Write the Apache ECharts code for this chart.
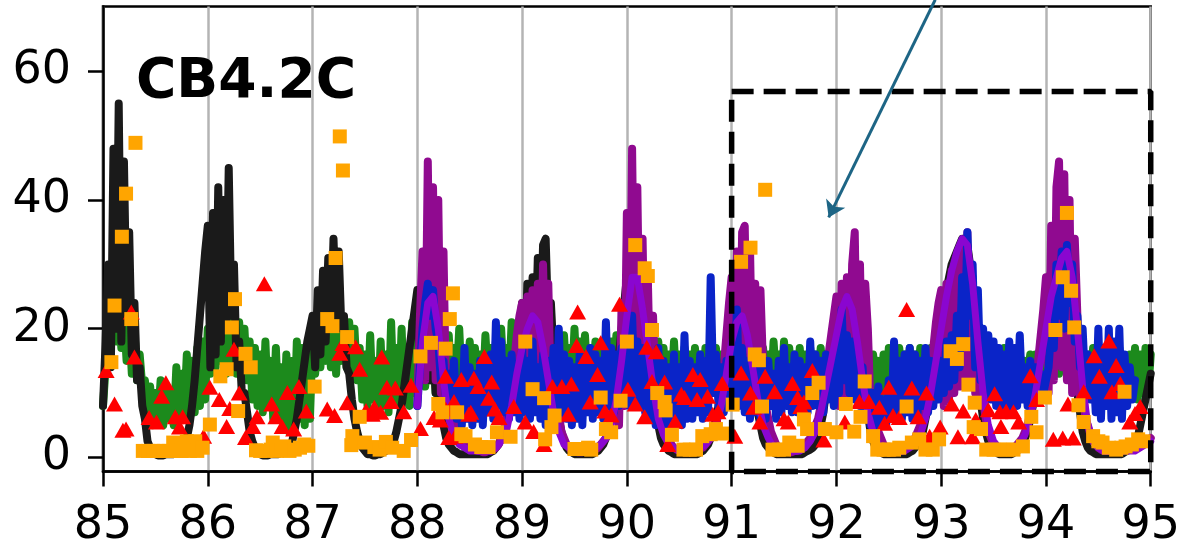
<!DOCTYPE html>
<html>
<head>
<meta charset="utf-8">
<script src="https://cdn.jsdelivr.net/npm/echarts@6/dist/echarts.min.js"></script>
<style>
html,body{margin:0;padding:0;background:#fff;}
#c{width:1183px;height:550px;}
</style>
</head>
<body>
<div id="c"></div>
<script>
// ---- data ----
const xTicks = [85, 86, 87, 88, 89, 90, 91, 92, 93, 94, 95];
const yTicks = [0, 20, 40, 60];
const panelLabel = 'CB4.2C';

const fineStep = 0.025;   // sample spacing of the noisy records
const coarseStep = 0.05;  // sample spacing of the smooth violet record

// green record, 85.000 -> 95.000 every 0.025
const greenStart = 85.0;
const green = [
 8,14,20,24,26,18,25,17,22,15, 21,13,20,12,16,11,12,6,11,5, 10,6,12,5,11,6,10,5,14,6, 13,7,16,6,15,7,17,8,18,9,
 20,13,22,14,24,15,23,13,25,14, 22,13,21,12,20,12,18,9,17,8, 16,7,18,8,15,6,17,7,14,5, 16,4,15,5,18,6,17,5,16,6,
 18,13,20,14,22,15,21,14,20,13, 22,15,19,14,21,13,20,12,17,9, 16,8,19,9,15,7,18,8,16,7, 21,9,17,8,20,9,16,8,21,10,
 18,12,16,11,19,12,17,10,18,11, 16,10,19,11,17,12,20,11,16,10, 18,12,17,11,16,10,19,12,17,11, 18,10,20,12,17,11,21,12,18,12,
 18,11,17,10,19,12,16,11,18,12, 17,10,18,11,16,10,19,12,17,11, 20,12,18,11,19,12,17,11,18,10, 17,12,19,11,18,12,19,13,17,12,
 20,12,18,11,19,12,17,11,18,12, 16,11,18,11,17,10,16,11,18,10, 16,11,17,12,16,10,17,11,16,11, 17,12,16,11,17,12,16,11,17,12,
 17,12,16,11,18,12,16,10,17,11, 16,10,17,11,16,10,18,12,16,11, 18,12,17,11,16,10,17,11,16,11, 17,12,16,11,17,12,16,11,17,12,
 17,12,16,11,17,12,16,11,17,12, 16,13,15,12,16,11,15,11,16,10, 17,11,16,10,17,12,16,11,17,12, 16,11,17,11,16,12,17,12,16,12,
 17,13,18,12,17,12,18,12,17,12, 16,11,17,12,16,11,17,12,16,11, 17,12,16,11,17,12,16,11,15,12, 16,13,15,12,16,13,16,14,17,14,
 18,14,19,14,18,13,19,14,18,14, 17,13,17,12,16,12,16,11,17,12, 17,12,16,11,16,11,17,12,17,12, 15,11,16,10,17,9,16,10,17,10,
 16];

// black record, 85.000 -> 95.000 every 0.025
const blackStart = 85.0;
const black = [
 8,18,30,14,48,20,55,18,46,22, 35,16,24,12,14,8,6,2.5,1.5,1, 0.5,0.3,0.3,0.3,0.5,0.5,0.5,0.5,0.8,1, 1.5,2,3,5,8,12,17,22,27,32,
 36,14,38,16,42,18,40,20,45,22, 30,14,18,10,10,7,4,2.5,1.5,1, 0.5,0.3,0.3,0.3,0.5,0.5,0.5,0.5,0.8,1, 1.2,1.5,2,4,6,9,12,15,18,20,
 22,14,26,16,29,18,31,20,34,22, 32,20,22,14,13,9,6,4,2.5,1.5, 1,0.5,0.5,0.3,0.3,0.5,0.5,0.8,1,1.5, 2,2.5,4,6,8,11,14,17,20,23,
 26,12,30,14,26,12,18,10,10,7, 5,3,2,1.5,1,0.8,0.5,0.5,0.5,0.5, 0.5,0.5,0.5,0.5,0.5,0.5,0.5,0.5,0.8,1, 1.5,2,3,4,6,8,11,14,17,20,
 24,12,27,14,28,16,31,18,33,34, 20,24,16,10,6,4,2.5,1.5,1,0.8, 0.5,0.5,0.5,0.5,0.5,0.5,0.5,0.5,0.8,1, 1.5,2,3,4,6,8,12,16,20,24,
 28,30,32,31,30,28,26,22,18,14, 10,7,5,3,2,1.5,1,0.8,0.5,0.5, 0.5,0.5,0.5,0.5,0.5,0.5,0.5,0.5,0.8,1, 1.5,2,3,4,6,8,11,14,17,20,
 21,23,25,24,24,22,20,17,13,10, 7,5,3,2,1.5,1,0.8,0.5,0.5,0.5, 0.5,0.5,0.5,0.5,0.5,0.5,0.5,0.5,0.8,1, 1.2,1.5,2,3,5,7,10,13,15,17,
 19,21,22,24,25,25,24,23,21,18, 14,10,7,4,2.5,1.5,1,0.8,0.5,0.5, 0.5,0.5,0.5,0.5,0.5,0.5,0.5,0.5,0.8,1, 1.5,2,3,4,6,8,11,14,17,20,
 22,24,26,28,30,31,32,33,34,34, 33,30,25,20,14,9,6,4,2.5,1.5, 1,0.8,0.5,0.5,0.5,0.5,0.5,0.5,0.8,1, 1.5,2,3,4,6,8,11,14,18,21,
 24,27,29,31,32,31,30,28,26,22, 18,14,10,7,4,2.5,1.5,1,0.8,0.5, 0.5,0.5,0.5,0.5,0.5,0.5,0.5,0.5,0.5,0.5, 0.8,1,1.2,1.5,2,3,5,7,9,11,
 13];

// blue record, 88.000 -> 94.850 every 0.025
const blueStart = 88.0;
const blue = [
 8,14,20,24,27,22,26,20,18,12, 15,9,13,7,15,6,12,5,17,6, 14,5,13,6,15,5,14,7,16,6, 21,8,18,7,15,6,16,7,14,6,
 17,7,15,6,18,7,14,6,16,5, 15,7,17,6,20,7,16,6,15,5, 14,6,16,5,15,7,17,6,16,7, 15,6,21,8,17,7,16,8,17,9,
 19,8,22,9,18,8,17,7,16,6, 15,5,17,6,15,5,14,6,16,5, 14,5,19,6,15,6,14,7,16,6, 15,7,28,10,16,8,14,7,15,8,
 16,9,23,8,17,7,15,6,14,7, 16,6,14,6,15,8,13,6,15,7, 17,8,14,7,16,7,15,8,14,7, 18,8,16,8,15,7,16,9,14,8,
 16,10,23,12,19,10,18,9,15,8, 14,6,11,5,10,4,11,5,9,5, 12,6,18,7,15,6,16,7,17,6, 16,7,15,8,17,7,15,8,14,9,
 15,10,18,11,19,12,22,14,28,18, 35,22,30,14,26,12,20,10,19,9, 18,8,17,7,16,8,18,7,17,8, 19,9,14,8,15,9,14,9,13,10,
 12,14,20,17,30,22,32,20,33,24, 30,18,22,14,20,11,16,9,15,7, 20,6,17,8,20,6,18,7,20,6, 16,8,14,9,12];

// dark magenta record, 88.000 -> 95.000 every 0.025
const magentaStart = 88.0;
const magenta = [
 8,22,32,12,46,14,42,12,40,10, 32,8,14,6,8,5,5,3,3,2, 2,1.5,1.5,1,1,0.8,0.8,1,1,1.2, 1.5,2,3,4,6,9,12,15,19,22,
 24,8,25,9,26,10,27,10,30,12, 27,10,16,8,7,4,3,2,1.5,1, 1,0.8,0.8,0.8,1,1,1,1.2,1.2,1.5, 2,2.5,3,4,6,9,13,5,24,8,
 38,12,48,14,42,12,34,10,28,9, 22,8,12,6,6,4,3,2,1.5,1.2, 1,1,0.8,0.8,1,1,1.2,1.2,1.5,1.5, 2,2.5,3,4,5,7,10,14,19,24,
 28,8,32,10,35,36,12,33,10,27, 8,26,14,8,6,4,3,2,1.5,1.2, 1,1,0.8,0.8,1,1,1.2,1.5,2,2.5, 3,4,5,6,8,10,13,16,19,22,
 25,8,27,9,28,10,30,35,10,30, 9,27,20,8,10,6,4,3,2,1.5, 1.2,1,0.8,0.8,1,1,1.2,1.5,2,2.5, 3,4,5,6,8,11,14,17,21,24,
 26,8,27,9,29,10,31,11,33,12, 35,12,28,10,18,8,9,6,4,3, 2,1.5,1.2,1,1,1,1,1.2,1.5,2, 2.5,3,4,5,7,9,12,15,19,23,
 28,10,36,12,42,46,14,44,12,40, 10,34,22,8,12,6,5,3.5,2.5,2, 1.5,1.2,1,1,1,1,1.2,1.2,1,1, 1.2,1.5,1.5,1.8,2,2,2,2.2,2.5,2.5,
 3];

// violet record, 88.00 -> 95.00 every 0.05
const violetStart = 88.0;
const violet = [
 8,18,24,25,20,12,6,3,2,1.5,1,1,1,1,1,1.5,2.5,4,8,13,
 17,20,22,21,17,12,7,4,2,1.5,1,1,1,1,1.5,2,3,5,9,15,
 22,28,28,23,17,11,6,3.5,2,1.5,1,1,1,1,1.5,2,3,5,8,13,
 18,21,22,19,14,9,5,3,1.5,1,1,1,1,1,1.5,2.5,4,7,11,15,
 19,23,25,23,18,12,7,4,2,1.5,1,1,1,1,1.5,2,3.5,6,10,15,
 20,25,29,32,34,33,27,18,10,5,2.5,1.5,1,1,1.5,2,3.5,6,10,15,
 20,25,28,31,32,28,20,11,5,2.5,1.5,1,1,1,1,1,1,1,1.5,2,
 2.5];

const triangles = [
 [85.03,13.5],[85.11,8.3],[85.19,4.2],[85.22,4.4],[85.27,22.6],[85.30,15.6],[85.44,6.2],[85.51,5.5],
 [85.56,9.5],[85.60,11.6],[85.69,6.3],[85.73,4.7],[85.76,6.3],[85.96,3.3],[86.02,10.9],[86.11,9.0],
 [86.18,4.8],[86.21,7.6],[86.25,16.8],[86.30,10.0],[86.36,3.1],[86.43,4.8],[86.47,6.3],[86.54,27.0],
 [86.61,8.3],[86.65,6.3],[86.71,4.8],[86.76,10.1],[86.82,4.4],[86.87,11.0],[86.94,7.2],[87.14,7.5],
 [87.21,6.5],[87.26,16.2],[87.29,17.7],[87.41,17.2],[87.45,13.7],[87.33,8.5],[87.51,7.3],[87.57,6.7],
 [87.59,7.8],[87.66,15.6],[87.71,10.9],[87.75,8.7],[87.79,10.8],[87.65,7.0],[87.87,7.1],[87.94,11.2],
 [88.03,4.5],[88.16,6.2],[88.22,5.8],[88.27,12.6],[88.27,7.5],[88.30,3.1],[88.35,8.7],[88.36,3.3],
 [88.42,12.1],[88.49,6.7],[88.51,7.0],[88.54,12.3],[88.58,11.0],[88.64,15.7],[88.68,9.2],[88.71,11.7],
 [88.74,7.5],[88.78,6.2],[88.92,7.9],[89.03,5.5],[89.11,4.0],[89.21,2.0],[89.29,11.0],[89.38,11.0],
 [89.44,6.7],[89.47,11.4],[89.53,22.6],[89.52,17.4],[89.61,15.7],[89.65,8.6],[89.72,12.9],[89.75,17.8],
 [89.79,7.2],[89.85,6.6],[89.93,23.8],[90.01,10.6],[90.08,8.3],[90.17,6.3],[90.19,17.1],[90.24,11.8],
 [90.28,16.4],[90.36,11.7],[90.39,2.0],[90.46,5.6],[90.52,9.8],[90.55,9.3],[90.63,12.9],[90.67,9.0],
 [90.70,12.1],[90.77,9.5],[90.82,6.7],[90.87,7.1],[90.91,11.5],[91.03,3.3],[91.09,13.1],[91.18,10.0],
 [91.21,7.8],[91.27,5.5],[91.32,12.6],[91.41,10.2],[91.50,6.0],[91.54,5.5],[91.58,11.5],[91.63,9.3],
 [91.66,7.9],[91.69,8.6],[91.77,13.5],[91.88,2.7],[92.08,5.5],[92.22,8.7],[92.31,8.7],[92.41,7.8],
 [92.46,5.3],[92.50,10.9],[92.54,6.5],[92.60,6.2],[92.67,23.0],[92.72,10.8],[92.78,6.3],[92.86,10.0],
 [92.89,3.3],[92.99,4.7],[93.10,8.3],[93.16,3.2],[93.21,7.2],[93.30,3.2],[93.33,5.9],[93.45,7.4],
 [93.51,9.9],[93.56,7.1],[93.57,4.8],[93.62,7.2],[93.69,7.1],[93.74,5.5],[93.85,12.7],[93.91,9.0],
 [94.07,2.8],[94.16,3.0],[94.26,3.0],[94.21,8.3],[94.36,10.2],[94.46,15.8],[94.51,12.6],[94.60,18.1],
 [94.67,14.3],[94.71,11.5],[94.63,10.2],[94.80,5.5],[94.85,6.8],[94.90,7.9]
];

const squares = [
 [85.08,14.8],[85.11,23.6],[85.18,34.3],[85.22,41.0],[85.27,21.5],[85.31,48.9],[85.38,1.0],[85.43,1.0],
 [85.48,1.0],[85.53,1.0],[85.58,1.0],[85.63,1.0],[85.67,2.3],[85.70,1.0],[85.75,1.0],[85.80,2.5],
 [85.83,1.0],[85.88,2.5],[85.90,1.0],[85.95,1.5],[86.02,5.1],[86.12,12.6],[86.18,13.7],[86.23,20.2],
 [86.26,24.6],[86.29,7.2],[86.36,16.1],[86.41,14.0],[86.46,1.1],[86.50,1.0],[86.55,1.0],[86.60,1.2],
 [86.62,2.3],[86.66,1.0],[86.70,1.2],[86.73,1.7],[86.78,1.0],[86.83,1.2],[86.88,1.5],[86.92,2.0],
 [86.96,1.8],[87.02,11.0],[87.14,21.5],[87.19,20.4],[87.22,31.0],[87.26,49.9],[87.29,44.6],[87.33,18.7],
 [87.38,3.3],[87.37,1.9],[87.45,6.3],[87.50,2.3],[87.59,1.6],[87.64,1.2],[87.70,2.4],[87.76,1.5],
 [87.87,1.0],[87.94,2.7],[88.03,15.7],[88.13,17.8],[88.20,8.3],[88.24,7.0],[88.27,16.9],[88.31,21.5],
 [88.34,25.5],[88.38,7.0],[88.42,3.6],[88.46,3.3],[88.55,2.0],[88.61,1.6],[88.68,1.6],[88.76,3.9],
 [88.89,3.2],[89.03,18.0],[89.10,10.6],[89.21,9.2],[89.28,4.7],[89.22,2.8],[89.31,6.5],[89.50,1.3],
 [89.56,1.3],[89.63,1.5],[89.66,1.2],[89.75,9.3],[89.80,4.4],[89.85,3.9],[89.94,8.8],[90.00,18.0],
 [90.08,33.0],[90.17,29.4],[90.20,28.2],[90.24,19.8],[90.29,10.0],[90.36,8.6],[90.37,7.3],[90.43,3.5],
 [90.54,1.2],[90.60,1.2],[90.66,1.2],[90.72,3.3],[90.80,3.6],[90.85,4.4],[90.91,3.7],[91.01,8.2],
 [91.09,30.4],[91.18,32.6],[91.32,41.6],[91.22,16.0],[91.26,15.1],[91.29,7.9],[91.39,1.2],[91.45,1.2],
 [91.50,1.2],[91.55,2.3],[91.63,1.8],[91.69,5.9],[91.72,4.4],[91.77,10.0],[91.83,11.6],[91.89,4.4],
 [92.00,3.9],[92.09,8.3],[92.17,4.0],[92.23,6.3],[92.27,11.8],[92.35,3.3],[92.39,1.2],[92.45,1.2],
 [92.50,1.2],[92.55,1.2],[92.60,1.5],[92.67,7.9],[92.72,2.3],[92.79,2.8],[92.85,1.2],[92.92,1.2],
 [92.98,2.8],[93.09,16.5],[93.15,15.3],[93.21,17.6],[93.26,11.3],[93.32,8.5],[93.31,4.7],[93.38,4.4],
 [93.43,1.2],[93.50,1.2],[93.56,1.2],[93.63,1.2],[93.69,1.2],[93.78,1.7],[93.86,6.3],[93.91,3.9],
 [93.99,9.3],[94.09,19.8],[94.16,28.0],[94.20,38.0],[94.24,25.9],[94.27,20.2],[94.31,8.1],[94.36,5.5],
 [94.45,3.3],[94.50,2.5],[94.54,2.3],[94.60,1.5],[94.67,1.2],[94.72,1.5],[94.76,1.7],[94.75,10.2],
 [94.82,2.0],[94.88,2.8],[94.93,2.5]
];

// annotation: dashed zoom box and arrow (data coordinates)
const boxX = [91, 95];
const boxY = [-2.2, 56.9];
const arrowFrom = [92.943, 71.15];
const arrowTo = [91.926, 37.3];
const yRange = [-2.2, 70.1];

// ---- chart ----
function pairs(start, step, values) {
  return values.map((v, i) => [Math.round((start + i * step) * 10000) / 10000, v]);
}
function lineSeries(name, start, step, values, color, z, width) {
  return {
    name, type: 'line', data: pairs(start, step, values), z,
    showSymbol: false, symbol: 'none', smooth: false, animation: false,
    lineStyle: { color, width, cap: 'round', join: 'round' }
  };
}

const FONT = 'DejaVu Sans';
const chart = echarts.init(document.getElementById('c'), null, { renderer: 'canvas' });
chart.setOption({
  animation: false,
  backgroundColor: '#ffffff',
  grid: { left: 103, right: 30, top: 6.5, bottom: 78.5, show: true, borderColor: '#000', borderWidth: 2.5, backgroundColor: 'transparent', containLabel: false },
  xAxis: {
    type: 'value', min: xTicks[0], max: xTicks[xTicks.length - 1], interval: 1,
    axisLine: { show: true, onZero: false, lineStyle: { color: '#000', width: 2.5 } },
    axisTick: { show: true, inside: false, length: 15, lineStyle: { color: '#000', width: 2.5 } },
    axisLabel: { show: true, margin: 32, fontSize: 46, fontFamily: FONT, color: '#000',
                 formatter: v => String(v) },
    splitLine: { show: true, lineStyle: { color: '#b4b4b4', width: 2.5 } }
  },
  yAxis: {
    type: 'value', min: yRange[0], max: yRange[1],
    axisLine: { show: true, onZero: false, lineStyle: { color: '#000', width: 2.5 } },
    axisTick: { show: true, inside: false, length: 15, customValues: yTicks, lineStyle: { color: '#000', width: 2.5 } },
    axisLabel: { show: true, margin: 32, fontSize: 46, fontFamily: FONT, color: '#000', customValues: yTicks },
    splitLine: { show: false }
  },
  graphic: [{
    type: 'text', left: 136, top: 55, z: 100,
    style: { text: panelLabel, font: 'bold 55px "DejaVu Sans"', fill: '#000' }
  }],
  series: [
    lineSeries('green', greenStart, fineStep, green, '#1c8a1c', 2, 8),
    lineSeries('black', blackStart, fineStep, black, '#1a1a1a', 3, 8),
    lineSeries('magenta', magentaStart, fineStep, magenta, '#900a90', 4, 8),
    lineSeries('blue', blueStart, fineStep, blue, '#0a24c8', 5, 8),
    lineSeries('violet', violetStart, coarseStep, violet, '#8a06d0', 6, 7),
    {
      name: 'tri', type: 'scatter', z: 7, data: triangles, symbol: 'triangle', symbolSize: [17, 15],
      itemStyle: { color: '#ff0000', opacity: 1 }, animation: false
    },
    {
      name: 'sq', type: 'scatter', z: 8, data: squares, symbol: 'rect', symbolSize: 14,
      itemStyle: { color: '#ffa500', opacity: 1 }, animation: false
    },
    {
      name: 'box', type: 'line', z: 9, clip: false, showSymbol: false, symbol: 'none', animation: false,
      data: [[boxX[0], boxY[1]], [boxX[1], boxY[1]], [boxX[1], boxY[0]], [boxX[0], boxY[0]], [boxX[0], boxY[1]]],
      lineStyle: { color: '#000', width: 5.5, type: [22, 10] }
    },
    {
      name: 'arrow', type: 'lines', coordinateSystem: 'cartesian2d', z: 10, clip: false, animation: false,
      symbol: ['none', 'arrow'], symbolSize: [0, 16],
      lineStyle: { color: '#1d6585', width: 3, opacity: 1 },
      data: [{ coords: [arrowFrom, arrowTo] }]
    }
  ]
});
</script>
</body>
</html>
